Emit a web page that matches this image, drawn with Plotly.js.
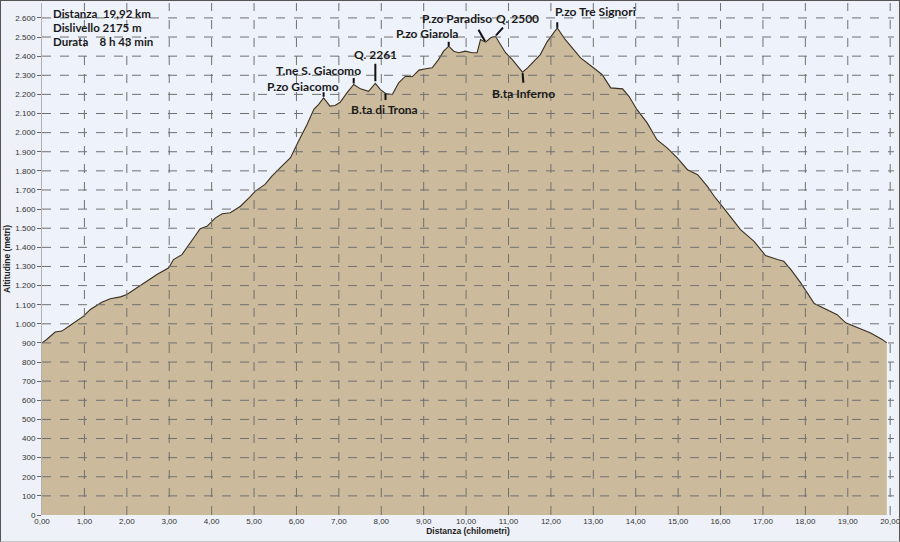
<!DOCTYPE html>
<html>
<head>
<meta charset="utf-8">
<script src="https://cdn.plot.ly/plotly-3.0.1.min.js"></script>
<style>
  html, body { margin: 0; padding: 0; background: #eef1f8; }
  #wrap { position: relative; width: 900px; height: 542px; }
  #chart { width: 900px; height: 542px; }
  #frame { position: absolute; left: 0; top: 0; width: 898px; height: 540px;
           border: 1px solid #555; border-bottom-color: #c8c8c8; pointer-events: none; }
</style>
</head>
<body>
<div id="wrap"><div id="chart"></div><div id="frame"></div></div>
<script>
// ---- data ----
const km = [0.00,0.11,0.31,0.47,0.66,0.98,1.14,1.41,1.61,1.85,2.00,2.23,2.47,2.71,2.99,3.10,3.30,3.42,3.58,3.73,3.89,4.09,4.25,4.44,4.68,4.91,5.03,5.26,5.42,5.62,5.86,6.05,6.25,6.41,6.52,6.64,6.79,6.91,7.03,7.19,7.35,7.51,7.70,7.86,7.98,8.10,8.26,8.41,8.57,8.73,8.89,9.05,9.20,9.35,9.47,9.59,9.71,9.83,9.98,10.14,10.26,10.34,10.46,10.58,10.69,10.81,10.93,11.09,11.21,11.33,11.45,11.60,11.75,11.91,12.15,12.34,12.54,12.70,13.01,13.21,13.41,13.69,13.84,14.03,14.27,14.50,14.74,14.98,15.22,15.46,15.69,15.85,16.01,16.23,16.47,16.79,17.06,17.34,17.49,17.66,17.89,18.21,18.44,18.75,18.95,19.23,19.54,19.82,19.92];
const elev = [900,918,957,962,991,1040,1075,1113,1131,1141,1153,1188,1224,1258,1293,1336,1362,1397,1450,1497,1510,1554,1576,1581,1615,1665,1694,1729,1772,1817,1869,1956,2043,2122,2147,2182,2139,2142,2159,2208,2252,2229,2216,2258,2225,2205,2199,2261,2295,2292,2327,2334,2339,2382,2426,2452,2426,2418,2426,2418,2418,2487,2473,2496,2505,2461,2418,2382,2348,2316,2339,2375,2408,2475,2548,2486,2434,2391,2338,2303,2234,2229,2190,2120,2051,1963,1920,1868,1806,1780,1719,1667,1623,1562,1493,1431,1357,1336,1327,1283,1214,1106,1083,1048,1005,979,952,917,900];

const xTicks = [0,1,2,3,4,5,6,7,8,9,10,11,12,13,14,15,16,17,18,19,20];
const yTicks = [0,100,200,300,400,500,600,700,800,900,1000,1100,1200,1300,1400,1500,1600,1700,1800,1900,2000,2100,2200,2300,2400,2500,2600];

const labelNames = ['P.zo Giacomo','T.ne S. Giacomo','Q. 2261','B.ta di Trona','P.zo Giarola','P.zo Paradiso','Q. 2500','B.ta Inferno','P.zo Tre Signori'];
const labelKm = [6.64,7.35,7.86,8.10,9.59,10.46,10.69,11.33,12.15];

const infoLines = ['Distanza\u00a0\u00a019,92 km','Dislivello 2175 m','Durata\u00a0\u00a0\u00a0\u00a08 h 43 min'];

// ---- styles (pixel offsets for labels) ----
const labelStyle = [
  {dx:-21, dy:-11, ax:0,  ay:-7,  so:1},
  {dx:-35, dy:-14, ax:0,  ay:-8,  so:1},
  {dx:0,   dy:-29, ax:0,  ay:-21, so:2},
  {dx:-1,  dy:16,  ax:0,  ay:8,   so:0},
  {dx:-22, dy:-13, ax:0,  ay:-6,  so:0},
  {dx:-29, dy:-24, ax:-8, ay:-14, so:1},
  {dx:22,  dy:-18, ax:9,  ay:-10, so:1},
  {dx:1,   dy:21,  ax:1,  ay:12,  so:1},
  {dx:38,  dy:-16, ax:0,  ay:-7,  so:0}
];
const infoY = [0.980, 0.953, 0.924];

const xMax = 20.09, yMax = 2678;
const gridColor = '#707070';

// ---- traces ----
const traces = [{
  x: km, y: elev, type: 'scatter', mode: 'lines',
  fill: 'tozeroy', fillcolor: '#cbbb9c',
  line: {color: '#3b2f22', width: 1.1},
  hoverinfo: 'skip'
}];
yTicks.forEach(v => {
  if (v > 0) traces.push({x: [0, xMax], y: [v, v], type: 'scatter', mode: 'lines',
    line: {color: gridColor, width: 1, dash: 'dash'}, hoverinfo: 'skip'});
});
xTicks.forEach(v => {
  if (v > 0) traces.push({x: [v, v], y: [0, yMax], type: 'scatter', mode: 'lines',
    line: {color: gridColor, width: 1, dash: 'dash'}, hoverinfo: 'skip'});
});

// ---- annotations ----
const annotations = [];
labelNames.forEach((name, i) => {
  const idx = km.indexOf(labelKm[i]);
  const e = elev[idx];
  const s = labelStyle[i];
  annotations.push({
    x: labelKm[i], y: e, xref: 'x', yref: 'y', text: '',
    showarrow: true, arrowhead: 0, arrowwidth: 2, arrowcolor: '#111',
    ax: s.ax, ay: s.ay, standoff: s.so
  });
  annotations.push({
    x: labelKm[i], y: e, xref: 'x', yref: 'y', text: name, showarrow: false,
    xanchor: 'center', yanchor: 'middle', xshift: s.dx, yshift: -s.dy,
    font: {family: 'Lato, sans-serif', size: 12, color: '#1a1a1a', weight: 700}
  });
});
infoLines.forEach((t, i) => {
  annotations.push({
    xref: 'paper', yref: 'paper', x: 0.01, y: infoY[i], xanchor: 'left', yanchor: 'middle',
    text: t, showarrow: false,
    font: {family: 'Lato, sans-serif', size: 11.5, color: '#1a1a1a', weight: 700}
  });
});

const layout = {
  width: 900, height: 542,
  margin: {l: 42, r: 6, t: 3, b: 27},
  paper_bgcolor: '#eef1f8', plot_bgcolor: '#eef2fa',
  separators: ',.',
  showlegend: false,
  xaxis: {
    range: [0, xMax], tickvals: xTicks, tickformat: '.2f',
    showgrid: false, zeroline: false, showline: false, ticks: '',
    ticklabeloverflow: 'allow',
    tickfont: {family: 'Liberation Sans, sans-serif', size: 8, color: '#333'},
    title: {text: 'Distanza (chilometri)', standoff: 1,
            font: {family: 'Liberation Sans, sans-serif', size: 8.5, color: '#222', weight: 700}}
  },
  yaxis: {
    range: [0, yMax], tickvals: yTicks, tickformat: ',.0f',
    showgrid: false, zeroline: false, showline: true, linecolor: '#b0b0b0',
    ticks: 'outside', ticklen: 4, tickcolor: '#666',
    tickfont: {family: 'Liberation Sans, sans-serif', size: 8, color: '#333'},
    title: {text: 'Altitudine (metri)', standoff: 3,
            font: {family: 'Liberation Sans, sans-serif', size: 8.5, color: '#222', weight: 700}}
  },
  annotations: annotations
};

Plotly.newPlot('chart', traces, layout, {displayModeBar: false, staticPlot: true});
</script>
</body>
</html>
